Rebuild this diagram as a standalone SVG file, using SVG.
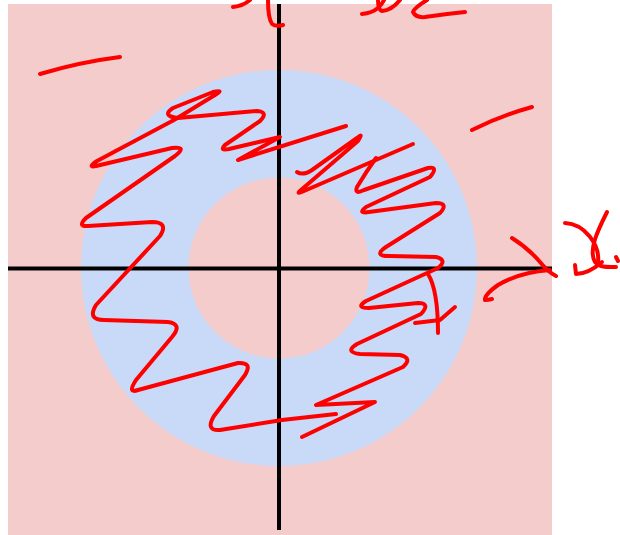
<svg xmlns="http://www.w3.org/2000/svg" width="620" height="535" viewBox="0 0 620 535">
  <style>
    .ink { fill: none; stroke: #ff0000; stroke-width: 4; stroke-linecap: round; stroke-linejoin: round; }
    .axis { stroke: #000000; stroke-width: 4; fill: none; }
  </style>
  <rect x="0" y="0" width="620" height="535" fill="#ffffff"/>
  <g id="background">
    <rect x="8" y="4" width="544" height="531" fill="#f4cccc"/>
  </g>
  <g id="ring">
    <path fill="#c9daf8" fill-rule="evenodd" d="M 81 268 A 198 198 0 1 0 477 268 A 198 198 0 1 0 81 268 Z M 188.5 268 A 90.5 90.5 0 1 0 369.5 268 A 90.5 90.5 0 1 0 188.5 268 Z"/>
  </g>
  <g id="axes">
    <line class="axis" x1="8" y1="268.5" x2="552" y2="268.5"/>
    <line class="axis" x1="279" y1="4" x2="279" y2="530"/>
  </g>
  <g id="scribble">
    <path class="ink" d="M 336 414 L 282 420 L 220 430 Q 205 431 214 416 L 245 375 Q 253 362 238 363 L 138 390 Q 127 394 136 380 L 172 337 Q 183 324 168 322 L 104 320 Q 87 320 96 305 L 160 236 Q 169 222 152 222 L 88 226 Q 77 227 86 218 L 175 156 Q 188 146 172 148 L 96 166 Q 87 168 97 161 L 174 120 L 215 95 Q 225 89 213 92 L 173 108 Q 161 116 178 118 L 257 111 Q 269 112 260 121 L 225 145 Q 219 151 229 149 L 280 137 L 238 160 L 346 126"/>
    <path class="ink" d="M 297 172 Q 303 176 312 170 L 357 138 Q 364 132 358 141 L 301 190 Q 295 195 304 191 L 413 144"/>
    <path class="ink" d="M 376 158 Q 366 172 357 187 Q 354 195 364 190 L 428 168 Q 439 166 430 177 L 366 207 Q 357 214 369 212 L 436 203 Q 449 203 440 213 L 386 247 Q 373 256 389 256 L 436 257 Q 448 260 438 268 L 366 301 Q 355 308 369 308 L 418 303 Q 431 303 421 314 L 357 344 Q 344 352 360 354 L 400 355 Q 413 358 403 367 L 316 405 L 375 402 L 302 437"/>
    <path class="ink" d="M 428 274 Q 438 290 438 333"/>
    <path class="ink" d="M 415 323 L 440 320 L 455 307"/>
    <path class="ink" d="M 40 74 Q 80 62 120 57"/>
    <path class="ink" d="M 472 130 Q 500 116 532 107"/>
  </g>
  <g id="labels">
    <path class="ink" d="M 233 7 Q 243 6 250 0"/>
    <path class="ink" d="M 268 0 Q 268 18 272 24 Q 276 27 283 25"/>
    <path class="ink" d="M 362 14 Q 372 13 378 8 Q 382 4 384 0"/>
    <path class="ink" d="M 378 0 Q 378 10 382 11 Q 392 10 400 0"/>
    <path class="ink" d="M 427 0 Q 414 8 413 12 Q 416 18 425 17 Q 445 14 465 12"/>
    <path class="ink" d="M 512 238 Q 528 248 540 262 Q 548 272 556 276"/>
    <path class="ink" d="M 550 270 Q 520 272 498 285 Q 484 295 485 300 Q 488 300 492 299"/>
    <path class="ink" d="M 565 223 C 585 224 600 245 598 262"/>
    <path class="ink" d="M 607 212 C 598 230 588 250 595 262 C 600 268 608 267 616 267"/>
    <path class="ink" d="M 575 265 L 576 274 C 585 274 595 268 602 262"/>
    <path class="ink" d="M 616 257 L 618 261"/>
  </g>
</svg>
